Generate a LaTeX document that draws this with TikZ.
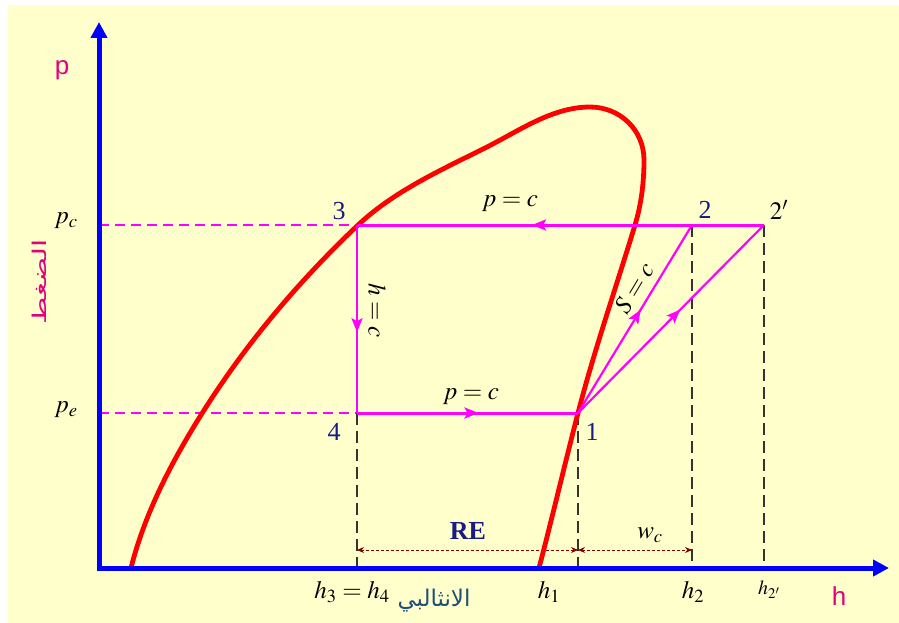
\documentclass[tikz,border=0pt]{standalone}
\usepackage{mathptmx}
\usepackage{fontspec}
\setmainfont{Liberation Serif}
\setsansfont{Liberation Sans}
\newfontfamily\arabicfont[Script=Arabic]{DejaVu Sans}
\TeXXeTstate=1
\usetikzlibrary{arrows.meta,decorations.markings}
\definecolor{bgc}{RGB}{255,255,204}
\definecolor{axblue}{RGB}{0,0,255}
\definecolor{domered}{RGB}{255,0,0}
\definecolor{cycmag}{RGB}{255,0,255}
\definecolor{lblpink}{RGB}{228,0,124}
\definecolor{numblue}{RGB}{25,25,135}
\definecolor{arblue}{RGB}{31,78,121}
\definecolor{dimred}{RGB}{128,0,0}
\tikzset{
  axisline/.style={draw=axblue,line width=5pt,line join=miter},
  domeline/.style={draw=domered,line width=4.8pt,line cap=round,line join=round},
  cycline/.style={draw=cycmag,line width=2.2pt},
  pinkdash/.style={draw=cycmag,line width=1.3pt,dash pattern=on 10pt off 6pt},
  blackdash/.style={draw=black!80,line width=1.2pt,dash pattern=on 12pt off 6pt},
  dimline/.style={draw=dimred,line width=0.9pt,dash pattern=on 3pt off 2pt,{Stealth[length=7pt,width=6pt]}-{Stealth[length=7pt,width=6pt]}},
  midarrow/.style={postaction={decorate},decoration={markings,mark=at position #1 with {\arrow{Stealth[length=14pt,width=11pt,inset=3pt]}}}},
  numlbl/.style={text=numblue,font=\fontsize{26}{30}\selectfont},
  mathlbl/.style={text=black,font=\fontsize{25}{30}\selectfont},
  pinklbl/.style={text=lblpink,font=\sffamily\fontsize{26}{30}\selectfont},
}
\begin{document}
\begin{tikzpicture}[x=1pt,y=-1pt]
\useasboundingbox (0,0) rectangle (899,623);
\fill[bgc] (8,5) rectangle (899,623);
% key coordinates
\coordinate (O) at (99,568);
\coordinate (ytop) at (99,22);
\coordinate (xend) at (889,568);
\coordinate (p3) at (357,225);
\coordinate (p2) at (692,225);
\coordinate (p2p) at (764,225);
\coordinate (p4) at (357,413);
\coordinate (p1) at (578,413);
\coordinate (pcax) at (99,225);
\coordinate (peax) at (99,413);
\coordinate (b4) at (357,568);
\coordinate (b1) at (578,568);
\coordinate (b2) at (692,568);
\coordinate (b2p) at (764,568);
\coordinate (d4) at (357,550);
\coordinate (d1) at (578,550);
\coordinate (d2) at (692,550);
% dashed guide lines
\draw[pinkdash] (pcax) -- (p3);
\draw[pinkdash] (peax) -- (p4);
\draw[blackdash] (p4) -- (b4);
\draw[blackdash] (p1) -- (b1);
\draw[blackdash] (p2) -- (b2);
\draw[blackdash] (p2p) -- (b2p);
% dimension lines
\draw[dimline] (d4) -- (d1);
\draw[dimline] (d1) -- (d2);
% saturation dome
\draw[domeline] (131,568)
  .. controls (144.6,513.7) and (171.3,462.5) .. (201,415)
  .. controls (244.5,345.5) and (297.5,282.5) .. (357,226)
  .. controls (393.3,191.5) and (440.3,170.4) .. (485,148)
  .. controls (519,131) and (552,107) .. (590,107)
  .. controls (620,107) and (644,130) .. (644,160)
  .. controls (644,182) and (641.4,204) .. (635,225)
  .. controls (616.1,287.2) and (594.3,350.1) .. (578,413)
  .. controls (564.7,464.3) and (552.5,516.7) .. (539,568);
% cycle
\draw[cycline,line width=3pt,midarrow=0.57] (p2p) -- (p3);
\draw[cycline,line width=2.5pt,midarrow=0.57] (p3) -- (p4);
\draw[cycline,line width=3pt,midarrow=0.55] (p4) -- (p1);
\draw[cycline,midarrow=0.55] (p1) -- (p2);
\draw[cycline,midarrow=0.55] (p1) -- (p2p);
% axes
\draw[axisline,{Triangle[length=16pt,width=16pt]}-{Triangle[length=16pt,width=16pt]}] (ytop) -- (O) -- (xend);
% labels
\node[pinklbl] (lp) at (62,70) {p};
\node[pinklbl] (lh) at (839,596) {h};
\node[mathlbl] (lpc) at (66,221) {$p_c$};
\node[mathlbl] (lpe) at (66,410) {$p_e$};
\node[text=lblpink,rotate=90,font=\arabicfont\fontsize{19}{22}\selectfont] (lpress) at (39,282) {\scalebox{1.55}[1]{\beginR الضغط\endR}};
\node[numlbl] (n3) at (339,211) {3};
\node[numlbl] (n2) at (705,210) {2};
\node[mathlbl] (n2p) at (779,210) {$2'$};
\node[numlbl] (n4) at (334,432) {4};
\node[numlbl] (n1) at (592,432) {1};
\node[mathlbl] (pctop) at (510,204) {$p=c$};
\node[mathlbl] (pcbot) at (471,397) {$p=c$};
\node[mathlbl,rotate=-90] (hc) at (377,311) {$h=c$};
\node[mathlbl,rotate=59] (sc) at (634,288) {$S=c$};
\node[text=numblue,font=\bfseries\fontsize{26}{30}\selectfont] (re) at (468,531) {RE};
\node[mathlbl] (wc) at (650,535) {$w_c$};
\node[mathlbl] (h34) at (352,592) {$h_3=h_4$};
\node[text=arblue,font=\arabicfont\fontsize{23}{26}\selectfont] (enth) at (434,601) {\beginR الانثالبي\endR};
\node[mathlbl] (h1) at (549,592) {$h_1$};
\node[mathlbl] (h2) at (693,592) {$h_2$};
\node[mathlbl,font=\fontsize{20}{24}\selectfont] (h2p) at (769,590) {$h_{2'}$};
\end{tikzpicture}
\end{document}
